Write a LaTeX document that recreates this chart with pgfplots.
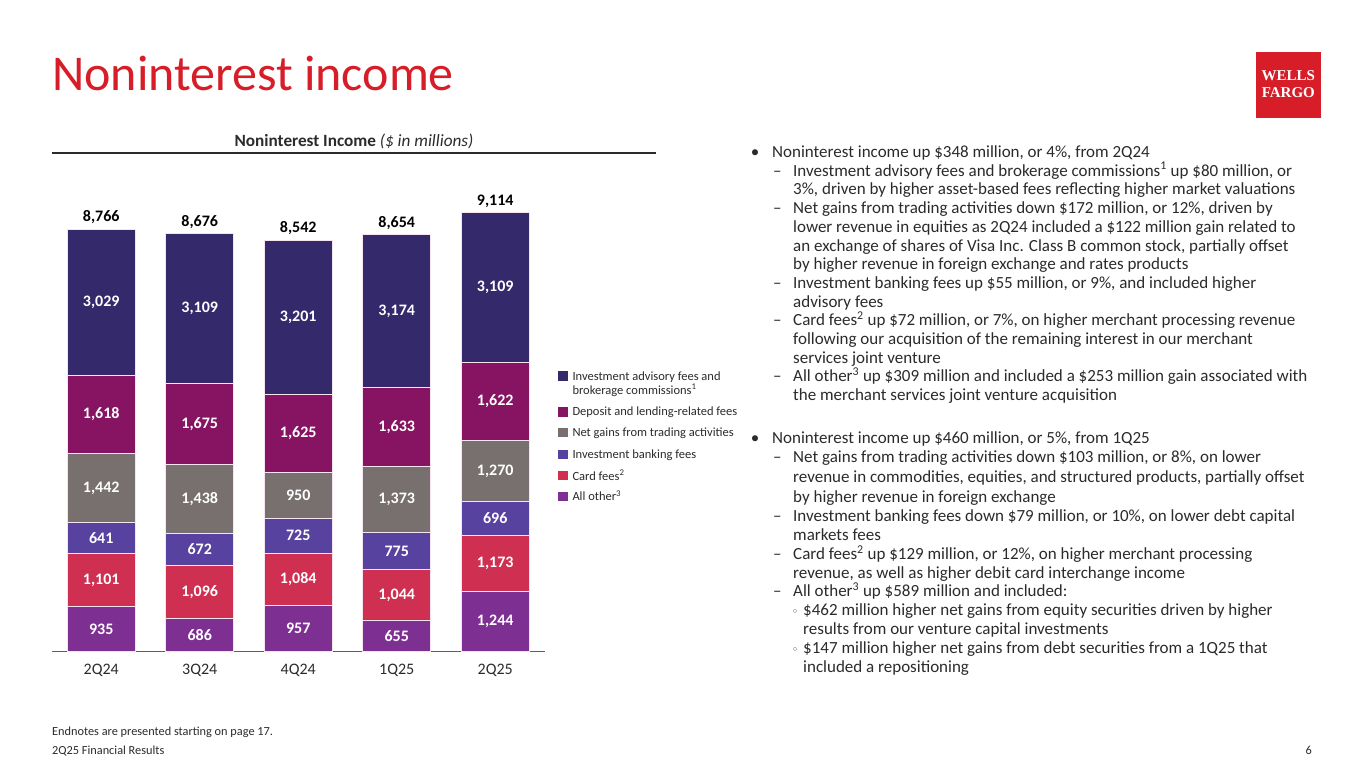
\documentclass[border=0pt]{standalone}
\usepackage{fontspec}
\setmainfont{Carlito}
\newfontfamily\logofont{Liberation Serif}
\newfontfamily\symfont{DejaVu Sans}
\usepackage{pgfplots}
\usepackage{pgfplotstable}
\pgfplotsset{compat=1.18}

\definecolor{wfred}{HTML}{D71E28}
\definecolor{txt}{HTML}{2B2B2B}
\definecolor{cAdv}{HTML}{33296B}
\definecolor{cDep}{HTML}{861462}
\definecolor{cTrd}{HTML}{77706F}
\definecolor{cIB}{HTML}{5842A0}
\definecolor{cCard}{HTML}{CF2F50}
\definecolor{cOth}{HTML}{7D2F92}
\definecolor{sep}{HTML}{F6E4EE}

% noninterest income by component, $ millions
\pgfplotstableread{
x oth card ib trd dep adv tot
0 935 1101 641 1442 1618 3029 8766
1 686 1096 672 1438 1675 3109 8676
2 957 1084 725 950 1625 3201 8542
3 655 1044 775 1373 1633 3174 8654
4 1244 1173 696 1270 1622 3109 9114
}\niitable

\pgfplotsset{
    niiframe/.style={
        at={(52pt,-651.5pt)}, anchor=south west,
        x=98.5pt, y=0.04814pt,
        xmin=-0.5, xmax=4.5, ymin=0, ymax=9300,
        clip=false,
        /pgf/number format/.cd, 1000 sep={,}, assume math mode=true,
        /pgfplots/.cd,
    },
    seglabel/.style={draw=none, mark=none, point meta=explicit, nodes near coords,
        every node near coord/.append style={anchor=center, text=white,
            font=\bfseries\fontsize{16}{16}\selectfont}},
}

\newcommand{\body}{\fontsize{17}{19}\selectfont}
\newcommand{\tl}[3]{\node[anchor=base west, inner sep=0, text=txt, font=\body] at (#1,-#2) {#3};}
\newcommand{\bul}[1]{\node[anchor=base, inner sep=0, text=txt, font=\body] at (755,-#1) {•};}
\newcommand{\dsh}[1]{\node[anchor=base west, inner sep=0, text=txt, font=\body] at (773,-#1) {–};}
\newcommand{\crc}[1]{\node[anchor=base, inner sep=0, text=txt, font=\symfont\fontsize{11}{11}\selectfont] at (795,-#1) {◦};}

\begin{document}
\begin{tikzpicture}[x=1pt, y=1pt]
\fill[white] (0,0) rectangle (1365,-768);

% title and logo
\node[anchor=base west, inner sep=0, text=wfred, font=\fontsize{50}{50}\selectfont] at (52,-91) {Noninterest income};
\fill[wfred] (1256,-52.5) rectangle (1320.5,-117.5);
\node[anchor=base, inner sep=0, text=white, font=\logofont\bfseries\fontsize{15}{15}\selectfont] at (1288.3,-81) {WELLS};
\node[anchor=base, inner sep=0, text=white, font=\logofont\bfseries\fontsize{15}{15}\selectfont] at (1288.3,-97.5) {FARGO};

% chart title
\node[anchor=base, inner sep=0, text=txt, font=\fontsize{17.2}{17.2}\selectfont] at (354,-146) {\textbf{Noninterest Income} \textit{(\$ in millions)}};
\draw[txt, line width=1.5pt] (52,-153) -- (656,-153);

% stacked bars
\begin{axis}[
    niiframe,
    ybar stacked, bar width=68pt,
    axis x line*=bottom, axis y line=none,
    x axis line style={-, draw=gray!75!black, line width=1.3pt},
    xtick={0,1,2,3,4},
    xticklabels={2Q24,3Q24,4Q24,1Q25,2Q25},
    major tick length=0pt,
    xticklabel style={anchor=base, yshift=-22.5pt, font=\fontsize{16}{16}\selectfont, text=txt},
    ytick=\empty,
    every axis plot/.append style={draw=sep, line width=0.9pt},
]
\addplot[fill=cOth] table[x=x, y=oth] {\niitable};
\addplot[fill=cCard] table[x=x, y=card] {\niitable};
\addplot[fill=cIB] table[x=x, y=ib] {\niitable};
\addplot[fill=cTrd] table[x=x, y=trd] {\niitable};
\addplot[fill=cDep] table[x=x, y=dep] {\niitable};
\addplot[fill=cAdv] table[x=x, y=adv] {\niitable};
\end{axis}

% segment values at segment middles, totals on top
\begin{axis}[niiframe, hide axis]
\addplot[seglabel] table[x=x, y expr={\thisrow{oth}/2}, meta=oth] {\niitable};
\addplot[seglabel] table[x=x, y expr={\thisrow{oth}+\thisrow{card}/2}, meta=card] {\niitable};
\addplot[seglabel] table[x=x, y expr={\thisrow{oth}+\thisrow{card}+\thisrow{ib}/2}, meta=ib] {\niitable};
\addplot[seglabel] table[x=x, y expr={\thisrow{oth}+\thisrow{card}+\thisrow{ib}+\thisrow{trd}/2}, meta=trd] {\niitable};
\addplot[seglabel] table[x=x, y expr={\thisrow{tot}-\thisrow{adv}-\thisrow{dep}/2}, meta=dep] {\niitable};
\addplot[seglabel] table[x=x, y expr={\thisrow{tot}-\thisrow{adv}/2}, meta=adv] {\niitable};
\addplot[draw=none, mark=none, point meta=explicit, nodes near coords,
    every node near coord/.append style={anchor=south, yshift=2pt, text=black,
        font=\bfseries\fontsize{16}{16}\selectfont}]
    table[x=x, y=tot, meta=tot] {\niitable};
\end{axis}

% legend
\foreach \yy/\cc in {376/cAdv, 412/cDep, 432.5/cTrd, 454.5/cIB, 475.5/cCard, 496.5/cOth}
    \fill[\cc] (558.3,-\yy+4.6) rectangle (567.6,-\yy-4.6);
\begin{scope}[every node/.style={anchor=base west, inner sep=0, text=txt, font=\fontsize{12.5}{12.5}\selectfont}]
\node at (572.3,-380.7) {Investment advisory fees and};
\node at (572.3,-394.3) {brokerage commissions\textsuperscript{1}};
\node at (572.3,-415) {Deposit and lending-related fees};
\node at (572.3,-436.7) {Net gains from trading activities};
\node at (572.3,-458.3) {Investment banking fees};
\node at (572.3,-480) {Card fees\textsuperscript{2}};
\node at (572.3,-500.7) {All other\textsuperscript{3}};
\end{scope}

% commentary
\bul{157.5}\tl{772}{157.5}{Noninterest income up \$348 million, or 4\%, from 2Q24}
\dsh{176.2}\tl{793}{176.2}{Investment advisory fees and brokerage commissions\textsuperscript{1} up \$80 million, or}
\tl{793}{194.9}{3\%, driven by higher asset-based fees reflecting higher market valuations}
\dsh{213.6}\tl{793}{213.6}{Net gains from trading activities down \$172 million, or 12\%, driven by}
\tl{793}{232.3}{lower revenue in equities as 2Q24 included a \$122 million gain related to}
\tl{793}{251}{an exchange of shares of Visa Inc. Class B common stock, partially offset}
\tl{793}{269.7}{by higher revenue in foreign exchange and rates products}
\dsh{288.4}\tl{793}{288.4}{Investment banking fees up \$55 million, or 9\%, and included higher}
\tl{793}{307.1}{advisory fees}
\dsh{325.8}\tl{793}{325.8}{Card fees\textsuperscript{2} up \$72 million, or 7\%, on higher merchant processing revenue}
\tl{793}{344.5}{following our acquisition of the remaining interest in our merchant}
\tl{793}{363.2}{services joint venture}
\dsh{381.9}\tl{793}{381.9}{All other\textsuperscript{3} up \$309 million and included a \$253 million gain associated with}
\tl{793}{400.6}{the merchant services joint venture acquisition}

\bul{443.3}\tl{772}{443.3}{Noninterest income up \$460 million, or 5\%, from 1Q25}
\dsh{462.7}\tl{793}{462.7}{Net gains from trading activities down \$103 million, or 8\%, on lower}
\tl{793}{482.3}{revenue in commodities, equities, and structured products, partially offset}
\tl{793}{502.3}{by higher revenue in foreign exchange}
\dsh{521.7}\tl{793}{521.7}{Investment banking fees down \$79 million, or 10\%, on lower debt capital}
\tl{793}{540}{markets fees}
\dsh{559.3}\tl{793}{559.3}{Card fees\textsuperscript{2} up \$129 million, or 12\%, on higher merchant processing}
\tl{793}{578.3}{revenue, as well as higher debit card interchange income}
\dsh{596.7}\tl{793}{596.7}{All other\textsuperscript{3} up \$589 million and included:}
\crc{615.7}\tl{803}{615.7}{\$462 million higher net gains from equity securities driven by higher}
\tl{803}{634.3}{results from our venture capital investments}
\crc{653.3}\tl{803}{653.3}{\$147 million higher net gains from debt securities from a 1Q25 that}
\tl{803}{672.3}{included a repositioning}

% footer
\node[anchor=base west, inner sep=0, text=txt, font=\fontsize{12.3}{12.3}\selectfont] at (52,-735) {Endnotes are presented starting on page 17.};
\node[anchor=base west, inner sep=0, text=txt, font=\fontsize{12.3}{12.3}\selectfont] at (52,-754) {2Q25 Financial Results};
\node[anchor=base east, inner sep=0, text=txt, font=\fontsize{12.3}{12.3}\selectfont] at (1312,-754) {6};
\end{tikzpicture}
\end{document}
